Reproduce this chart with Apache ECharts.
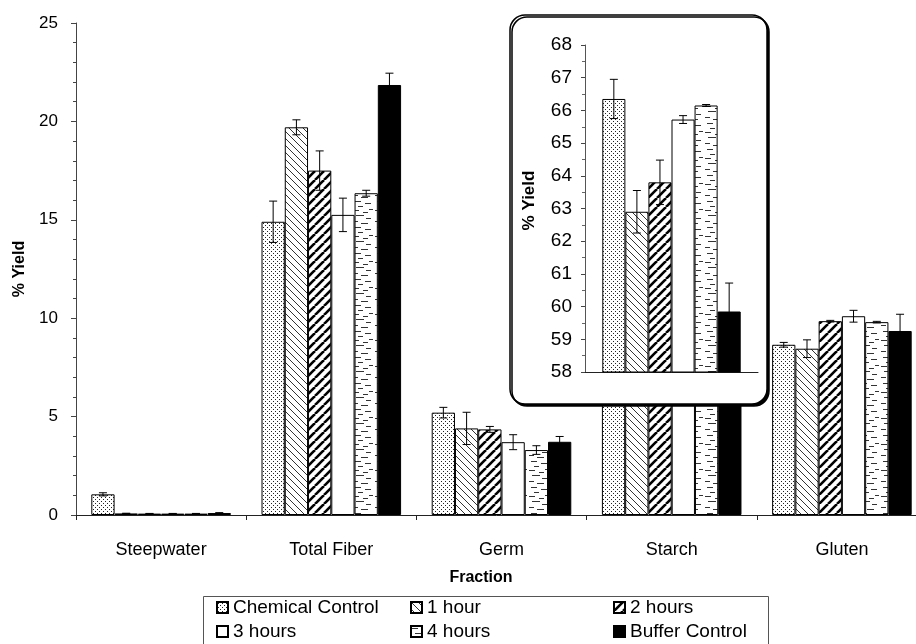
<!DOCTYPE html>
<html>
<head>
<meta charset="utf-8">
<script src="https://cdn.jsdelivr.net/npm/echarts@6/dist/echarts.min.js"></script>
<style>
html,body{margin:0;padding:0;background:#fff}
#chart{width:916px;height:644px}
</style>
</head>
<body>
<div id="chart"></div>
<script>
// Fractions recovered after milling, and the steeping treatments compared
const fractions = ['Steepwater', 'Total Fiber', 'Germ', 'Starch', 'Gluten'];
const treatments = ['Chemical Control', '1 hour', '2 hours', '3 hours', '4 hours', 'Buffer Control'];

// Mean % yield per treatment, in fraction order
const chemicalControl = [1.05, 14.9, 5.2, 66.35, 8.65];
const oneHour         = [0.08, 19.7, 4.4, 62.9, 8.45];
const twoHours        = [0.07, 17.5, 4.35, 63.8, 9.85];
const threeHours      = [0.07, 15.25, 3.7, 65.72, 10.1];
const fourHours       = [0.07, 16.35, 3.3, 66.15, 9.8];
const bufferControl   = [0.1, 21.85, 3.72, 59.85, 9.35];

// Standard deviations (error bars), same order
const chemicalControlSD = [0.08, 1.05, 0.27, 0.6, 0.12];
const oneHourSD         = [0.01, 0.38, 0.82, 0.65, 0.45];
const twoHoursSD        = [0.01, 1.0, 0.15, 0.68, 0.04];
const threeHoursSD      = [0.01, 0.85, 0.38, 0.12, 0.3];
const fourHoursSD       = [0.01, 0.15, 0.22, 0.03, 0.04];
const bufferControlSD   = [0.02, 0.6, 0.27, 0.87, 0.85];

// Axis ranges
const mainAxis  = { min: 0, max: 25, interval: 5 };
const insetAxis = { min: 58, max: 68, interval: 1 };
const insetFraction = 3; // Starch gets its own magnified panel

const means = [chemicalControl, oneHour, twoHours, threeHours, fourHours, bufferControl];
const sds = [chemicalControlSD, oneHourSD, twoHoursSD, threeHoursSD, fourHoursSD, bufferControlSD];

// ---- fill textures (drawn once into small canvases) ----
function tile(w, h, draw) {
  const c = document.createElement('canvas');
  c.width = w; c.height = h;
  const g = c.getContext('2d');
  g.fillStyle = '#fff';
  g.fillRect(0, 0, w, h);
  draw(g, w, h);
  return { image: c, repeat: 'repeat' };
}
const dotted = tile(4, 4, (g) => {
  g.fillStyle = '#222';
  g.fillRect(1, 1, 1, 1);
  g.fillRect(3, 3, 1, 1);
});
const thinBack = tile(7, 7, (g, w, h) => {
  g.strokeStyle = '#333'; g.lineWidth = 1;
  for (const o of [-w, 0, w]) {
    g.beginPath(); g.moveTo(o, 0); g.lineTo(o + w, h); g.stroke();
  }
});
const thickForward = tile(9, 9, (g, w, h) => {
  g.strokeStyle = '#000'; g.lineWidth = 2.6;
  for (const o of [-w, 0, w]) {
    g.beginPath(); g.moveTo(o, h); g.lineTo(o + w, 0); g.stroke();
  }
});
const dashes = tile(22, 26, (g) => {
  g.strokeStyle = '#333'; g.lineWidth = 1;
  const segs = [[1,2,6],[11,4,5],[4,7,8],[14,10,5],[1,13,5],[9,15,7],[3,19,6],[13,21,6],[6,24,5],[17,1,4]];
  for (const [x, y, l] of segs) {
    g.beginPath(); g.moveTo(x, y + 0.5); g.lineTo(x + l, y + 0.5); g.stroke();
  }
});
const fills = [dotted, thinBack, thickForward, '#fff', dashes, '#000'];

const FONT = '"Liberation Sans", Arial, sans-serif';
const mainGap = 0.18;
const insetGap = 0.20;

function errorSeries(axisIdx, rows, gap, z) {
  return {
    type: 'custom',
    xAxisIndex: axisIdx, yAxisIndex: axisIdx,
    z: z, clip: true, silent: true,
    data: rows,
    encode: { x: 0, y: 2 },
    renderItem(params, api) {
      const cat = api.value(0), s = api.value(1), m = api.value(2), sd = api.value(3);
      const band = api.size([1, 0])[0];
      const barW = band * (1 - gap) / treatments.length;
      const cx = api.coord([cat, m])[0] + (s - (treatments.length - 1) / 2) * barW;
      const yTop = api.coord([cat, m + sd])[1];
      const yBot = api.coord([cat, m - sd])[1];
      const cap = 4;
      const st = { stroke: '#000', lineWidth: 1 };
      return {
        type: 'group',
        children: [
          { type: 'line', shape: { x1: cx, y1: yTop, x2: cx, y2: yBot }, style: st },
          { type: 'line', shape: { x1: cx - cap, y1: yTop, x2: cx + cap, y2: yTop }, style: st },
          { type: 'line', shape: { x1: cx - cap, y1: yBot, x2: cx + cap, y2: yBot }, style: st }
        ]
      };
    }
  };
}

// error bar rows: [fraction index, treatment index, mean, sd]
const mainRows = [];
const insetRows = [];
means.forEach((arr, s) => arr.forEach((v, f) => {
  if (f === insetFraction) insetRows.push([0, s, v, sds[s][f]]);
  else mainRows.push([f, s, v, sds[s][f]]);
}));

const series = [];
treatments.forEach((name, s) => {
  series.push({
    name, type: 'bar', xAxisIndex: 0, yAxisIndex: 0,
    data: means[s], barGap: '0%', barCategoryGap: (mainGap * 100) + '%',
    itemStyle: { color: fills[s], borderColor: '#000', borderWidth: 1 },
    z: 2, silent: true
  });
});
treatments.forEach((name, s) => {
  series.push({
    name, type: 'bar', xAxisIndex: 1, yAxisIndex: 1,
    data: [means[s][insetFraction]], barGap: '0%', barCategoryGap: (insetGap * 100) + '%',
    itemStyle: { color: fills[s], borderColor: '#000', borderWidth: 1 },
    z: 8, silent: true
  });
});
series.push(errorSeries(0, mainRows, mainGap, 3));
series.push(errorSeries(1, insetRows, insetGap, 9));

const legendCommon = {
  orient: 'vertical', top: 598, padding: 0, itemWidth: 11, itemHeight: 11, itemGap: 5,
  icon: 'rect', selectedMode: false,
  textStyle: { fontFamily: FONT, fontSize: 19, color: '#000', lineHeight: 19 }
};

const chart = echarts.init(document.getElementById('chart'), null, { renderer: 'canvas' });
chart.setOption({
  animation: false,
  backgroundColor: '#fff',
  grid: [
    { left: 76, top: 23, width: 851, height: 492, outerBoundsMode: 'none' },
    { left: 585, top: 45, width: 173, height: 327, outerBoundsMode: 'none' }
  ],
  xAxis: [
    {
      type: 'category', gridIndex: 0, data: fractions,
      axisLine: { show: true, lineStyle: { color: '#222', width: 1 } },
      axisTick: { show: true, length: 5, lineStyle: { color: '#222' } },
      axisLabel: { fontFamily: FONT, fontSize: 18, color: '#000', margin: 26 },
      splitLine: { show: false }
    },
    {
      type: 'category', gridIndex: 1, data: [fractions[insetFraction]], z: 6,
      axisLine: { show: true, lineStyle: { color: '#222', width: 1 } },
      axisTick: { show: false }, axisLabel: { show: false }, splitLine: { show: false }
    }
  ],
  yAxis: [
    {
      type: 'value', gridIndex: 0, min: mainAxis.min, max: mainAxis.max, interval: mainAxis.interval,
      name: '% Yield', nameLocation: 'middle', nameRotate: 90, nameGap: 48,
      nameTextStyle: { fontFamily: FONT, fontSize: 16, fontWeight: 'bold', color: '#000' },
      axisLine: { show: true, lineStyle: { color: '#444', width: 1 } },
      axisTick: { show: true, length: 5, lineStyle: { color: '#444' } },
      minorTick: { show: true, splitNumber: 5, length: 3, lineStyle: { color: '#444' } },
      axisLabel: { fontFamily: FONT, fontSize: 17, color: '#000', margin: 18 },
      splitLine: { show: false }, minorSplitLine: { show: false }
    },
    {
      type: 'value', gridIndex: 1, min: insetAxis.min, max: insetAxis.max, interval: insetAxis.interval, z: 6,
      name: '% Yield', nameLocation: 'middle', nameRotate: 90, nameGap: 47,
      nameTextStyle: { fontFamily: FONT, fontSize: 17, fontWeight: 'bold', color: '#000', padding: [0, 0, 0, 16] },
      axisLine: { show: true, lineStyle: { color: '#555', width: 1 } },
      axisTick: { show: true, length: 4, lineStyle: { color: '#444' } },
      minorTick: { show: true, splitNumber: 2, length: 3, lineStyle: { color: '#666' } },
      axisLabel: { fontFamily: FONT, fontSize: 19, color: '#000', margin: 13 },
      splitLine: { show: false }, minorSplitLine: { show: false }
    }
  ],
  legend: [
    Object.assign({ left: 216, data: [treatments[0], treatments[3]] }, legendCommon),
    Object.assign({ left: 410, data: [treatments[1], treatments[4]] }, legendCommon),
    Object.assign({ left: 613, data: [treatments[2], treatments[5]] }, legendCommon)
  ],
  graphic: [
    {
      type: 'rect', z: 5, silent: true,
      shape: { x: 510, y: 15, width: 257, height: 389, r: 15 },
      style: { fill: '#fff', stroke: '#000', lineWidth: 1.5, shadowColor: '#000', shadowOffsetX: 2, shadowOffsetY: 2, shadowBlur: 0 }
    },
    {
      type: 'rect', z: 1, silent: true,
      shape: { x: 203.5, y: 596.5, width: 565, height: 70 },
      style: { fill: 'none', stroke: '#555', lineWidth: 1 }
    },
    {
      type: 'text', z: 1, silent: true, x: 481, y: 578,
      style: { text: 'Fraction', fontFamily: FONT, fontSize: 16, fontWeight: 'bold', fill: '#000', align: 'center', verticalAlign: 'middle' }
    }
  ],
  series
});
</script>
</body>
</html>
